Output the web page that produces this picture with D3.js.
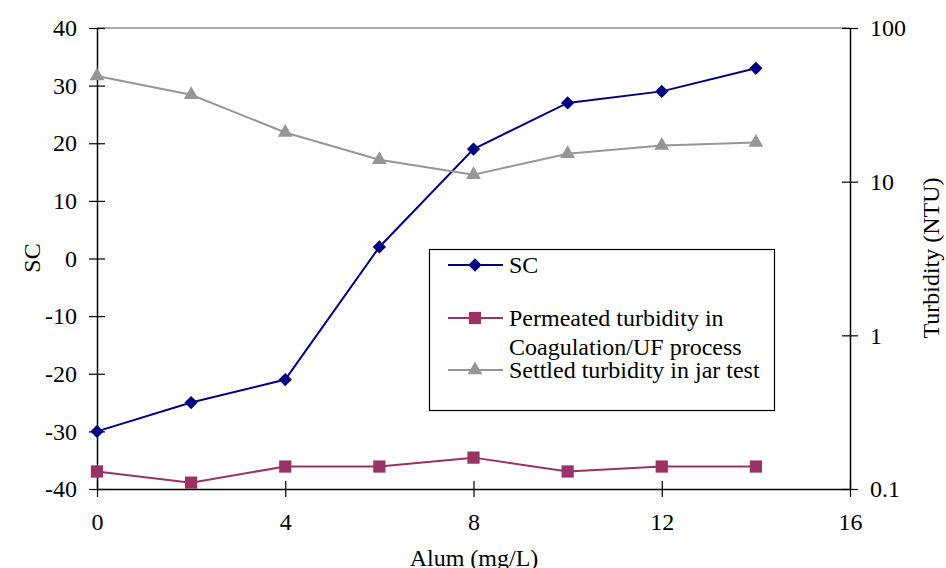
<!DOCTYPE html>
<html lang="en">
<head>
<meta charset="utf-8">
<title>SC and turbidity vs alum</title>
<script src="https://cdn.jsdelivr.net/npm/d3@7"></script>
<style>
  body { margin: 0; background: #fff; }
  svg text { font-family: "Liberation Serif", "Times New Roman", serif; fill: #000; }
</style>
</head>
<body>
<div id="chart"></div>
<script>
// data
var alum = [0, 2, 4, 6, 8, 10, 12, 14];
var sc = [-30, -25, -21, 2, 19, 27, 29, 33];
var permeated = [0.13, 0.11, 0.14, 0.14, 0.16, 0.13, 0.14, 0.14];
var settled = [48.7, 36.8, 20.9, 13.9, 11.1, 15.2, 17.2, 18.0];
var xTicks = [0, 4, 8, 12, 16];
var scTicks = [-40, -30, -20, -10, 0, 10, 20, 30, 40];
var turbTicks = [0.1, 1, 10, 100];

var w = 946, h = 568;
// plot area edges (note: "top" is reserved on window, so use plot* names)
var plotL = 97, plotR = 850, plotT = 28, plotB = 489;

var svg = d3.select("#chart").append("svg")
  .attr("width", w).attr("height", h);

var x = d3.scaleLinear().domain([0, 16]).range([plotL, plotR]);
var y = d3.scaleLinear().domain([-40, 40]).range([plotB, plotT]);
var yr = d3.scaleLog().domain([0.1, 100]).range([plotB, plotT]);

// top frame line
svg.append("line")
  .attr("x1", plotL).attr("x2", plotR).attr("y1", plotT).attr("y2", plotT)
  .attr("stroke", "#8c8c8c").attr("stroke-width", 1.5);

// axes (ticks cross the axis line)
function styleAxis(g) {
  g.select(".domain").attr("stroke", "#000").attr("stroke-width", 1.5);
  g.selectAll(".tick line").attr("stroke", "#000").attr("stroke-width", 1.2);
  g.selectAll(".tick text").attr("font-size", 24)
    .attr("font-family", "Liberation Serif, serif");
}
// plain hyphen for negatives, like the original
var plain = function(d) { return String(d); };

var gx = svg.append("g").attr("transform", "translate(0," + plotB + ")")
  .call(d3.axisBottom(x).tickValues(xTicks).tickFormat(plain).tickSize(8).tickPadding(16).tickSizeOuter(0));
styleAxis(gx);
gx.selectAll(".tick line").attr("y1", -8);

var gy = svg.append("g").attr("transform", "translate(" + plotL + ",0)")
  .call(d3.axisLeft(y).tickValues(scTicks).tickFormat(plain).tickSize(8).tickPadding(12).tickSizeOuter(0));
styleAxis(gy);
gy.selectAll(".tick line").attr("x1", 8);

var gr = svg.append("g").attr("transform", "translate(" + plotR + ",0)")
  .call(d3.axisRight(yr).tickValues(turbTicks).tickFormat(plain)
    .tickSize(8).tickPadding(12).tickSizeOuter(0));
styleAxis(gr);
gr.selectAll(".tick line").attr("x1", -8);

// axis titles
svg.append("text").attr("x", 474).attr("y", 566)
  .attr("text-anchor", "middle").attr("font-size", 24).text("Alum (mg/L)");
svg.append("text").attr("transform", "translate(40,258) rotate(-90)")
  .attr("text-anchor", "middle").attr("font-size", 24).text("SC");
svg.append("text").attr("transform", "translate(939,258) rotate(-90)")
  .attr("text-anchor", "middle").attr("font-size", 24).text("Turbidity (NTU)");

// series
var series = [
  { name: "SC", vals: sc, scale: y, color: "#000080", shape: d3.symbolSquare, size: 88, rot: 45 },
  { name: "perm", vals: permeated, scale: yr, color: "#993366", shape: d3.symbolSquare, size: 150, rot: 0 },
  { name: "settled", vals: settled, scale: yr, color: "#969696", shape: d3.symbolTriangle, size: 95, rot: 0 }
];

series.forEach(function(s) {
  var line = d3.line()
    .x(function(d, i) { return x(alum[i]); })
    .y(function(d) { return s.scale(d); });
  svg.append("path").datum(s.vals)
    .attr("d", line).attr("fill", "none")
    .attr("stroke", s.color).attr("stroke-width", 2);
  svg.selectAll(null).data(s.vals).enter().append("path")
    .attr("d", d3.symbol().type(s.shape).size(s.size))
    .attr("transform", function(d, i) {
      return "translate(" + x(alum[i]) + "," + s.scale(d) + ") rotate(" + s.rot + ")";
    })
    .attr("fill", s.color);
});

// legend
var lg = svg.append("g");
lg.append("rect").attr("x", 429.5).attr("y", 249.5).attr("width", 345).attr("height", 161)
  .attr("fill", "#fff").attr("stroke", "#000").attr("stroke-width", 1.2);

var legendItems = [
  { s: series[0], y: 265, lines: ["SC"] },
  { s: series[1], y: 318, lines: ["Permeated turbidity in", "Coagulation/UF process"] },
  { s: series[2], y: 370, lines: ["Settled turbidity in jar test"] }
];
legendItems.forEach(function(it) {
  lg.append("line").attr("x1", 448).attr("x2", 503).attr("y1", it.y).attr("y2", it.y)
    .attr("stroke", it.s.color).attr("stroke-width", 2);
  lg.append("path").attr("d", d3.symbol().type(it.s.shape).size(it.s.size))
    .attr("transform", "translate(475," + it.y + ") rotate(" + it.s.rot + ")")
    .attr("fill", it.s.color);
  it.lines.forEach(function(t, k) {
    lg.append("text").attr("x", 509).attr("y", it.y + 8 + k * 29)
      .attr("font-size", 24).text(t);
  });
});
</script>
</body>
</html>
